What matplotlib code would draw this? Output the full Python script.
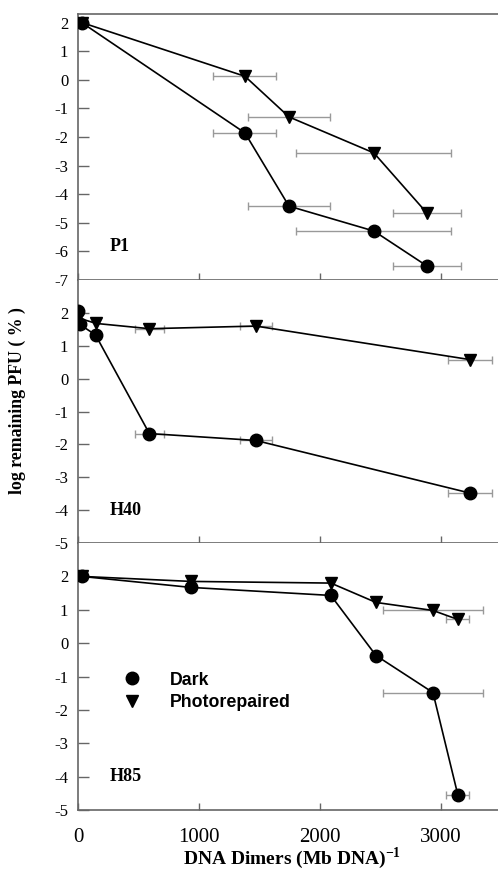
import matplotlib
matplotlib.use('Agg')
import matplotlib.pyplot as plt
from matplotlib.lines import Line2D

plt.rcParams['font.family'] = ['Liberation Serif', 'DejaVu Serif']
plt.rcParams['mathtext.fontset'] = 'custom'
plt.rcParams['mathtext.bf'] = 'Liberation Serif:bold'
plt.rcParams['axes.unicode_minus'] = False

# P1 panel
p1_x = [30, 1380, 1744, 2446, 2884]
p1_xerr = [0, 260, 340, 640, 280]
p1_dark = [2.0, -1.86, -4.42, -5.29, -6.51]
p1_photo = [2.0, 0.12, -1.3, -2.56, -4.66]

# H40 panel
h40_dark_x = [0, 15, 145, 590, 1470, 3240]
h40_dark_xerr = [0, 0, 0, 120, 135, 180]
h40_dark = [2.05, 1.65, 1.33, -1.67, -1.88, -3.48]
h40_photo_x = [0, 150, 590, 1470, 3240]
h40_photo_xerr = [0, 0, 120, 135, 180]
h40_photo = [1.85, 1.68, 1.52, 1.6, 0.58]

# H85 panel
h85_x = [30, 934, 2090, 2463, 2934, 3140]
h85_xerr = [0, 0, 0, 0, 415, 95]
h85_dark = [2.0, 1.67, 1.43, -0.37, -1.48, -4.55]
h85_photo = [2.0, 1.85, 1.8, 1.22, 0.98, 0.71]

panels = [
    ('P1', (p1_x, p1_dark, p1_xerr), (p1_x, p1_photo, p1_xerr), (-7, 2.3), list(range(-7, 3))),
    ('H40', (h40_dark_x, h40_dark, h40_dark_xerr), (h40_photo_x, h40_photo, h40_photo_xerr), (-5, 3.0), list(range(-5, 3))),
    ('H85', (h85_x, h85_dark, h85_xerr), (h85_x, h85_photo, h85_xerr), (-5, 3.0), list(range(-5, 3))),
]

fig = plt.figure(figsize=(4.98, 8.93), dpi=100)
boxes = [(0.1566, 0.6865, 0.843, 0.2979),
         (0.1566, 0.3919, 0.843, 0.2945),
         (0.1566, 0.0929, 0.843, 0.2990)]

spine_col = '#666666'
err_col = '#999999'

for i, (name, dark, photo, ylim, yticks) in enumerate(panels):
    ax = fig.add_axes(boxes[i])
    for xs, ys, xe, mk in [(dark[0], dark[1], dark[2], 'o'), (photo[0], photo[1], photo[2], 'v')]:
        ax.errorbar(xs, ys, xerr=xe, fmt='none', ecolor=err_col, elinewidth=1.0,
                    capsize=3, capthick=1.0, zorder=2)
        ax.plot(xs, ys, color='black', lw=1.2, marker=mk, markersize=9,
                markerfacecolor='black', markeredgecolor='black', zorder=3)
    ax.set_xlim(0, 3470)
    ax.set_ylim(*ylim)
    ax.set_yticks(yticks)
    ax.set_xticks([0, 1000, 2000, 3000])
    ax.tick_params(axis='y', direction='in', length=8, width=1, color=spine_col,
                   labelsize=12, pad=7)
    ax.tick_params(axis='x', direction='in', length=5, width=1, color=spine_col,
                   labelsize=15, pad=13)
    if i < 2:
        ax.tick_params(axis='x', labelbottom=False)
    ax.spines['right'].set_visible(False)
    if i > 0:
        ax.spines['top'].set_visible(False)
    for s in ['left', 'bottom', 'top']:
        ax.spines[s].set_color(spine_col)
        ax.spines[s].set_linewidth(1.2)
    ax.text(0.075, 0.125, name, transform=ax.transAxes, fontsize=13,
            fontweight='bold', va='center', ha='left')
    if name == 'H85':
        handles = [Line2D([], [], ls='none', marker='o', color='black', markersize=9),
                   Line2D([], [], ls='none', marker='v', color='black', markersize=9)]
        ax.legend(handles, ['Dark', 'Photorepaired'], loc='center left',
                  bbox_to_anchor=(0.07, 0.445), frameon=False,
                  prop={'family': 'Liberation Sans', 'weight': 'bold', 'size': 12.8},
                  handletextpad=1.1, labelspacing=0.3, borderaxespad=0)

fig.text(0.035, 0.551, 'log remaining PFU ( % )', rotation=90, fontsize=12.8,
         fontweight='bold', ha='center', va='center')
fig.text(0.587, 0.039, r'DNA Dimers (Mb DNA)$^{\mathbf{-1}}$', fontsize=14,
         fontweight='bold', ha='center', va='center')

fig.savefig('out.png', dpi=100)
